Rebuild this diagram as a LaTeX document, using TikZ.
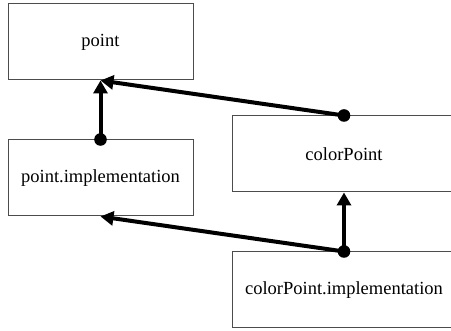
\documentclass[tikz,border=0pt]{standalone}
\usepackage{fontspec}
\setmainfont{Liberation Serif}
\usetikzlibrary{arrows.meta}
\begin{document}
\begin{tikzpicture}[x=1pt,y=1pt,
  box/.style={draw=black!70, line width=1pt, minimum height=76pt, inner sep=0pt, font=\fontsize{18.5}{22}\selectfont},
  conn/.style={line width=4pt, -{Triangle[length=13pt,width=14pt]}},
  dot/.style={fill=black}]
\useasboundingbox (0,0) rectangle (451,331);
\clip (0,0) rectangle (451,331);
\node[box, minimum width=185pt] (p) at (100.5,289) {point};
\node[box, minimum width=185pt] (pi) at (100.5,153) {point.implementation};
\node[box, minimum width=224pt] (cp) at (344,177) {colorPoint};
\node[box, minimum width=224pt] (cpi) at (344,41) {colorPoint.implementation};
\draw[conn] (pi.north) -- (p.south);
\draw[conn] (cp.north) -- (p.south);
\draw[conn] (cpi.north) -- (cp.south);
\draw[conn] (cpi.north) -- (pi.south);
\fill[dot] (pi.north) circle (6.3pt);
\fill[dot] (cp.north) circle (6.3pt);
\fill[dot] (cpi.north) circle (6.3pt);
\end{tikzpicture}
\end{document}
